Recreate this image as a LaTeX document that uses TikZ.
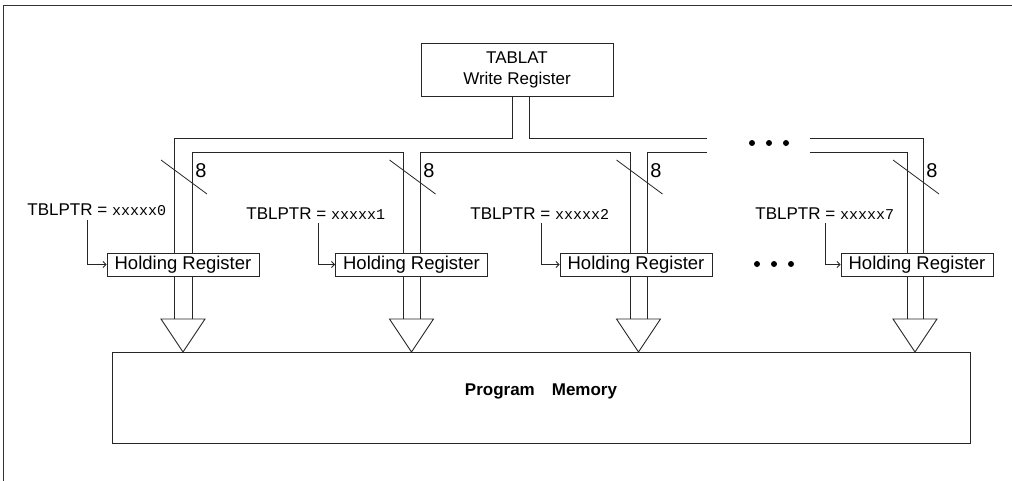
\documentclass[tikz,border=0pt]{standalone}
\usepackage{fontspec}
\setmainfont{Liberation Sans}
\setmonofont{Liberation Mono}
\usetikzlibrary{calc,arrows.meta}
\begin{document}
\begin{tikzpicture}[x=1pt,y=-1pt,line width=0.9pt,
  txt/.style={font=\fontsize{17}{21}\selectfont},
  box/.style={draw=black!85,fill=white,inner sep=0pt,txt},
  hreg/.style={box,minimum width=152pt,minimum height=23pt,font=\fontsize{18.5}{21}\selectfont},
  lbl/.style={anchor=base west,inner sep=0pt,txt},
  bus/.style={draw=black!85},
  tri/.style={draw=black!85},
  ptr/.style={draw=black!85,line width=0.8pt,-{Straight Barb[length=3pt,width=6pt]}},
  num/.style={anchor=west,inner sep=0pt,font=\fontsize{20}{21}\selectfont},
  dot/.style={fill=black,circle,inner sep=0pt,minimum size=6pt}]
\useasboundingbox (0,0) rectangle (1012,481);
% frame
\draw[black!80] (1012,5) -- (3,5) -- (3,481);
% TABLAT
\node[box,minimum width=192pt,minimum height=53pt,align=center] (tab) at (517,69.5) {TABLAT\\Write Register};
% outer bus line
\draw[bus] (174,319) -- (174,138) -- (512,138) -- (tab.south -| 512,0);
\draw[bus] (tab.south -| 529,0) -- (529,138) -- (707,138);
\draw[bus] (810,138) -- (923,138) -- (923,319);
% inner bus line
\draw[bus] (192,319) -- (192,152) -- (403,152) -- (403,319);
\draw[bus] (420,319) -- (420,152) -- (630,152) -- (630,319);
\draw[bus] (647,319) -- (647,152) -- (707,152);
\draw[bus] (810,152) -- (907,152) -- (907,319);
% dots
\node[dot] (d1) at (752,143) {};
\node[dot] (d2) at (769,143) {};
\node[dot] (d3) at (786,143) {};
\node[dot] (e1) at (757,264) {};
\node[dot] (e2) at (774,264) {};
\node[dot] (e3) at (791,264) {};
% width marks
\foreach \c/\r in {183/192,411.5/420,638.5/647,915/923}{
  \draw[bus,line width=0.8pt] (\c-22,160) -- (\c+24,194);
  \node[num] at (\r+3,171) {8};
}
% triangles
\foreach \c in {183,411.5,638.5,915}{
  \draw[tri] (\c-22,319) -- (\c+22,319) -- (\c,352) -- cycle;
}
% holding registers
\node[hreg] (h1) at (183,264.5) {Holding Register};
\node[hreg] (h2) at (411.5,264.5) {Holding Register};
\node[hreg] (h3) at (636,264.5) {Holding Register};
\node[hreg] (h4) at (917,264.5) {Holding Register};
% labels
\node[lbl] (l1) at (27,216) {TBLPTR = {\fontsize{15}{15}\ttfamily xxxxx0}};
\node[lbl] (l2) at (246,220) {TBLPTR = {\fontsize{15}{15}\ttfamily xxxxx1}};
\node[lbl] (l3) at (470,220) {TBLPTR = {\fontsize{15}{15}\ttfamily xxxxx2}};
\node[lbl] (l4) at (755,220) {TBLPTR = {\fontsize{15}{15}\ttfamily xxxxx7}};
\draw[ptr] ([xshift=60pt,yshift=-3pt]l1.south west) |- (h1.west);
\draw[ptr] ([xshift=72pt,yshift=-3pt]l2.south west) |- (h2.west);
\draw[ptr] ([xshift=71pt,yshift=-3pt]l3.south west) |- (h3.west);
\draw[ptr] ([xshift=70pt,yshift=-3pt]l4.south west) |- (h4.west);
% program memory
\node[box,minimum width=858pt,minimum height=91pt] (pm) at (541,397.5) {};
\node[txt,font=\fontsize{17}{21}\selectfont\bfseries] (pmt) at (541,391) {Program\quad Memory};
\end{tikzpicture}
\end{document}
